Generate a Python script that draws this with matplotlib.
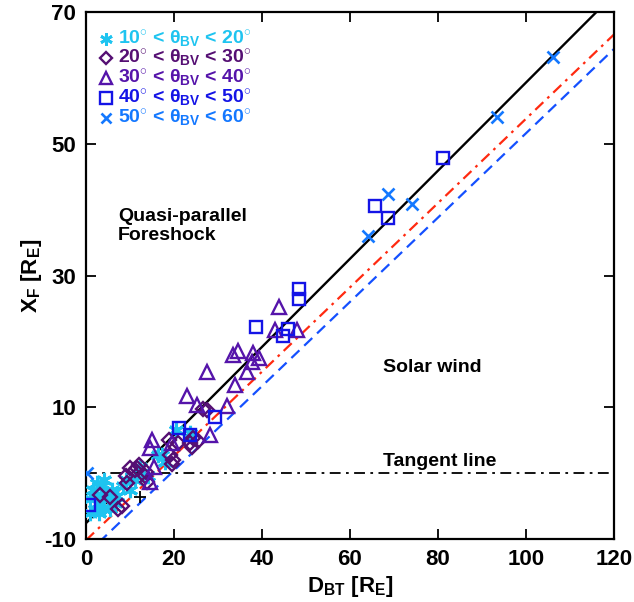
import numpy as np
import matplotlib
matplotlib.use("Agg")
import matplotlib.pyplot as plt

plt.rcParams['font.family'] = ['Liberation Sans', 'DejaVu Sans']
plt.rcParams['font.weight'] = 'bold'
plt.rcParams['axes.unicode_minus'] = False
plt.rcParams['mathtext.fontset'] = 'custom'
plt.rcParams['mathtext.rm'] = 'Liberation Sans:bold'
plt.rcParams['mathtext.it'] = 'Liberation Sans'
plt.rcParams['mathtext.bf'] = 'Liberation Sans:bold'

# ------------------------------------------------------------
# data
# ------------------------------------------------------------
# 10 < theta < 20 (asterisks)
x_10 = [1.5, 2.0, 2.5, 3.0, 3.5, 4.0, 4.5, 5.0, 5.5, 6.0, 6.5, 2.0, 1.0, 3.0,
        7.0, 4.0, 8.5, 10.0, 9.0, 0.9, 11.2, 12.3, 16.4, 17.2, 18.0, 23.6, 14.0, 20.5]
y_10 = [-2.5, -3.5, -1.5, -4.5, -2.0, -5.5, -3.0, -4.0, -5.5, -2.5, -4.5, -5.5, -4.0, -6.0,
        -3.5, -1.0, -2.0, -2.5, -1.0, -6.0, -1.0, 1.0, 2.7, 2.7, 1.7, 6.1, -0.5, 6.5]
# 20 < theta < 30 (diamonds)
x_20 = [9.2, 10.0, 11.5, 12.1, 13.6, 9.3, 13.8, 3.2, 5.5, 7.3, 8.1, 18.9,
        19.1, 19.5, 19.8, 21.0, 23.6, 24.0, 25.5, 24.3, 26.6, 27.4, 11.1, 13.4]
y_20 = [-0.5, 0.7, 0.8, 1.2, 0.2, -1.5, -1.3, -3.3, -3.6, -5.5, -5.0, 5.1,
        2.7, 1.4, 2.0, 4.5, 4.5, 4.0, 4.8, 5.3, 9.8, 9.6, 0.5, -0.5]
# 30 < theta < 40 (triangles)
x_30 = [43.9, 43.0, 48.0, 33.5, 34.6, 37.9, 39.4, 37.7, 36.5, 27.6, 33.9,
        22.9, 25.2, 32.1, 28.2, 14.9, 14.5, 19.5, 15.5, 14.5]
y_30 = [25.2, 21.7, 21.7, 17.9, 18.6, 18.3, 17.4, 16.9, 15.4, 15.4, 13.4,
        11.7, 10.4, 10.2, 5.8, 5.1, 3.8, 4.6, 0.9, -1.3]
# 40 < theta < 50 (squares)
x_40 = [81.1, 65.7, 68.7, 48.5, 48.3, 38.6, 46.0, 44.7, 29.3, 21.2, 23.6, 0.75]
y_40 = [47.9, 40.5, 38.8, 27.9, 26.4, 22.2, 21.9, 20.8, 8.5, 6.9, 5.8, -4.8]
# 50 < theta < 60 (crosses)
x_50 = [106.1, 93.4, 68.6, 74.2, 64.2, 0.2]
y_50 = [63.1, 54.0, 42.4, 40.8, 36.0, 0.0]
# odd black point
x_blk = [12.3]
y_blk = [-3.6]

# fitted lines: (intercept, slope)
fit_black = (-7.6, 0.669)
fit_red = (-10.2, 0.64)
fit_blue = (-12.4, 0.64)
tangent_y = 0.0

legend_labels = [r"10$^{\circ}$ < $\mathit{\theta}_{\mathrm{BV}}$ < 20$^{\circ}$",
                 r"20$^{\circ}$ < $\mathit{\theta}_{\mathrm{BV}}$ < 30$^{\circ}$",
                 r"30$^{\circ}$ < $\mathit{\theta}_{\mathrm{BV}}$ < 40$^{\circ}$",
                 r"40$^{\circ}$ < $\mathit{\theta}_{\mathrm{BV}}$ < 50$^{\circ}$",
                 r"50$^{\circ}$ < $\mathit{\theta}_{\mathrm{BV}}$ < 60$^{\circ}$"]

c_cyan = '#1EC4F0'
c_dpur = '#550F73'
c_pur = '#5514AA'
c_blue = '#1414E6'
c_lblue = '#1478FF'

# ------------------------------------------------------------
fig = plt.figure(figsize=(6.34, 6.02), dpi=100)
ax = fig.add_axes([0.1356, 0.1047, 0.8329, 0.8753])

xl = np.array([0, 120])
for (b, m), col, ls in [(fit_red, '#FF2A10', (0, (5, 2.5, 1.2, 2.5))),
                        (fit_blue, '#1450FF', (0, (5, 3)))]:
    ax.plot(xl, b + m * xl, color=col, lw=1.6, linestyle=ls, zorder=2)
ax.plot(xl, fit_black[0] + fit_black[1] * xl, color='black', lw=1.7, zorder=2)
ax.plot(xl, [tangent_y, tangent_y], color='black', lw=1.3,
        linestyle=(0, (6, 3, 1.5, 3)), zorder=2)

ast = (6, 2, 0)
ax.plot(x_10, y_10, linestyle='none', marker=ast, ms=11, mec=c_cyan, mew=2.2, zorder=3)
ax.plot(x_20, y_20, linestyle='none', marker='D', ms=7, mfc='none', mec=c_dpur, mew=1.7, zorder=3)
ax.plot(x_30, y_30, linestyle='none', marker='^', ms=10, mfc='none', mec=c_pur, mew=1.7, zorder=3)
ax.plot(x_40, y_40, linestyle='none', marker='s', ms=9, mfc='none', mec=c_blue, mew=1.7, zorder=3)
ax.plot(x_50, y_50, linestyle='none', marker='x', ms=9, mec=c_lblue, mew=1.9, zorder=3)
ax.plot(x_blk, y_blk, linestyle='none', marker='+', ms=8, mec='black', mew=1.3, zorder=3)

# legend drawn by hand
leg_y = [0.949, 0.912, 0.874, 0.836, 0.799]
leg_m = [dict(marker=ast, ms=9, mec=c_cyan, mew=2.0),
         dict(marker='D', ms=6, mfc='none', mec=c_dpur, mew=1.7),
         dict(marker='^', ms=8, mfc='none', mec=c_pur, mew=1.7),
         dict(marker='s', ms=8, mfc='none', mec=c_blue, mew=1.7),
         dict(marker='x', ms=7, mec=c_lblue, mew=1.9)]
leg_c = [c_cyan, c_dpur, c_pur, c_blue, c_lblue]
for yy, mk, col, lab in zip(leg_y, leg_m, leg_c, legend_labels):
    ax.plot([0.038], [yy], transform=ax.transAxes, linestyle='none', **mk)
    ax.text(0.061, yy, lab, transform=ax.transAxes, color=col, fontsize=14,
            fontweight='bold', va='center', ha='left')

ax.text(7.3, 37.5, "Quasi-parallel\nForeshock", fontsize=14, fontweight='bold',
        va='center', ha='left', linespacing=1.2)
ax.text(67.5, 16.0, "Solar wind", fontsize=14, fontweight='bold', va='center', ha='left')
ax.text(67.5, 1.8, "Tangent line", fontsize=14, fontweight='bold', va='center', ha='left')

ax.set_xlim(0, 120)
ax.set_ylim(-10, 70)
ax.set_xticks(np.arange(0, 121, 20))
ax.set_yticks([-10, 10, 30, 50, 70])
ax.tick_params(direction='in', length=7, width=1.3, top=True, right=True,
               labelsize=16, pad=7)
for lab in ax.get_xticklabels() + ax.get_yticklabels():
    lab.set_fontweight('bold')
for spine in ax.spines.values():
    spine.set_linewidth(1.6)

ax.set_xlabel(r"D$_{\mathrm{BT}}$ [R$_{\mathrm{E}}$]", fontsize=16, fontweight='bold', labelpad=3)
ax.set_ylabel(r"X$_{\mathrm{F}}$ [R$_{\mathrm{E}}$]", fontsize=16, fontweight='bold', labelpad=0)

fig.savefig("out.png", dpi=100)
